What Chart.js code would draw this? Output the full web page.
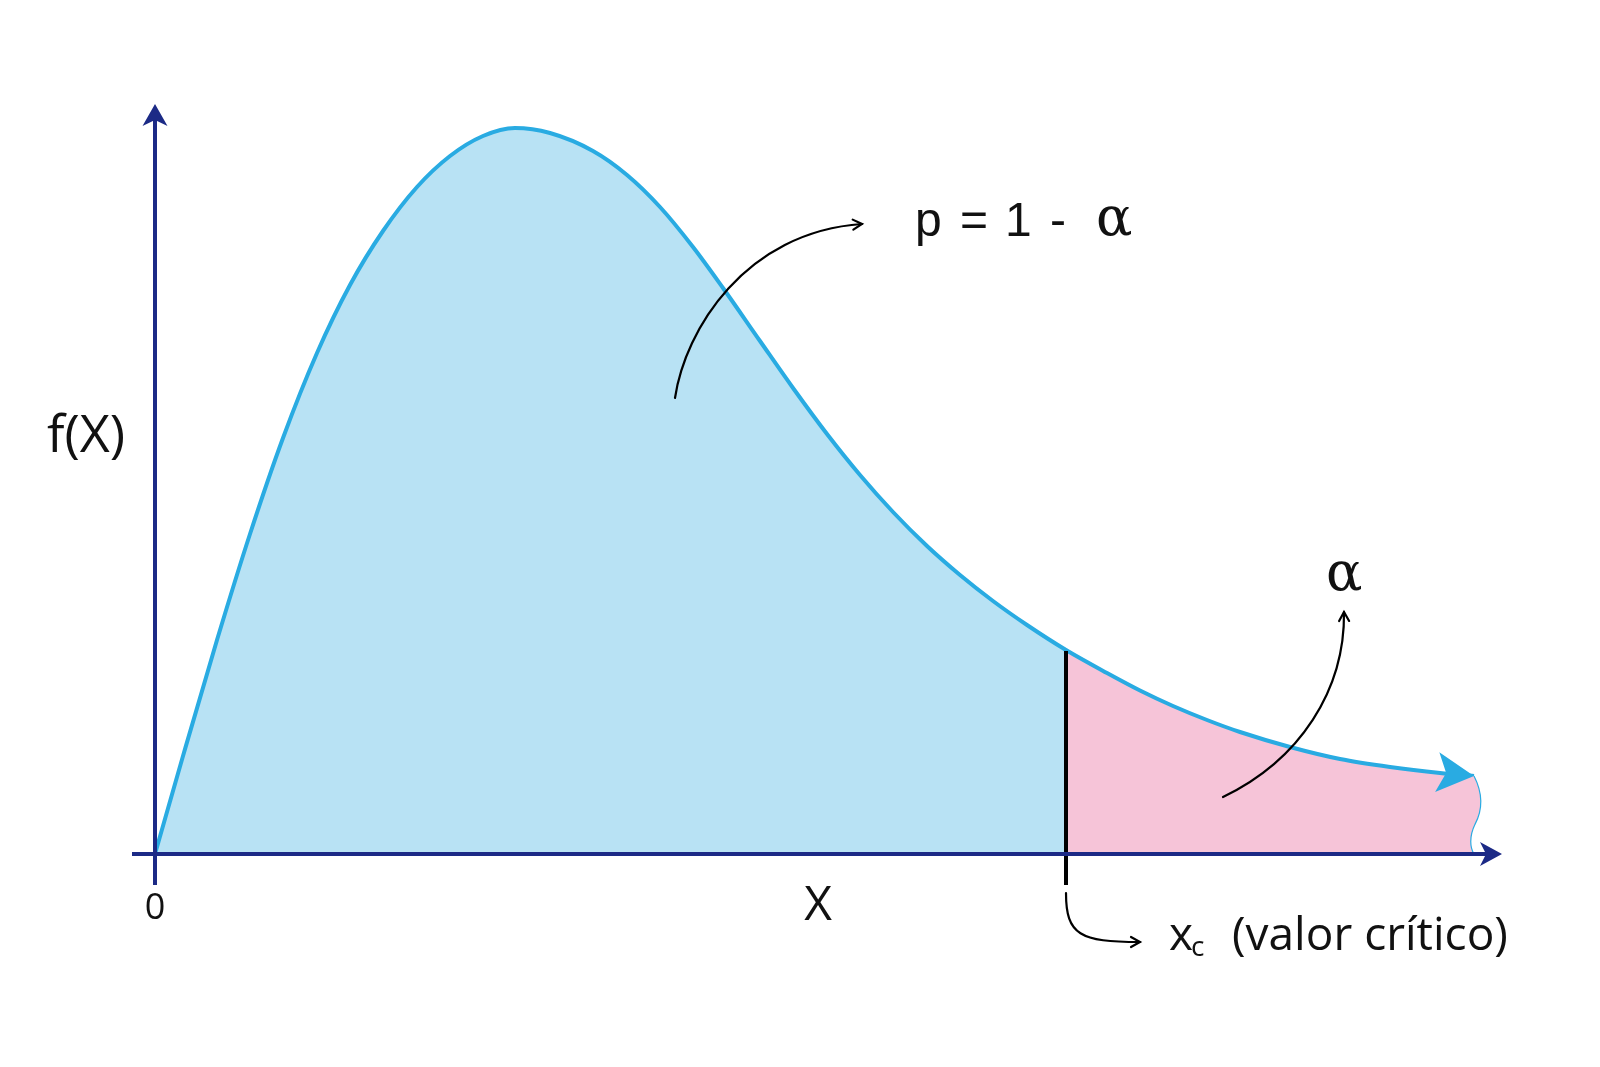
<!DOCTYPE html>
<html lang="pt-BR">
<head>
<meta charset="utf-8">
<title>Valor crítico</title>
<script src="https://cdn.jsdelivr.net/npm/chart.js@4.4.1/dist/chart.umd.min.js"></script>
<style>
  html, body { margin: 0; padding: 0; background: #ffffff; }
  canvas { display: block; }
</style>
</head>
<body>
<canvas id="grafico" width="1600" height="1067"></canvas>
<script>
// Pontos da curva f(X) (unidades arbitrárias)
var valoresX = [0, 0.28, 0.62, 0.95, 1.28, 1.62, 1.95, 2.28, 2.62, 2.95, 3.28, 3.60, 3.95, 4.38, 4.72, 5.05, 5.38, 5.68, 6.05, 6.38, 6.72, 7.05, 7.38, 7.72, 8.05, 8.38, 8.72, 9.11, 9.52, 9.85, 10.18, 10.52, 10.85, 11.35, 11.85, 12.35, 12.85, 13.19];
var valoresY = [0, 0.98, 2.14, 3.20, 4.16, 5.01, 5.69, 6.23, 6.67, 6.98, 7.18, 7.26, 7.21, 7.03, 6.79, 6.47, 6.07, 5.66, 5.13, 4.66, 4.20, 3.79, 3.42, 3.08, 2.79, 2.53, 2.29, 2.04, 1.81, 1.635, 1.48, 1.34, 1.22, 1.07, 0.95, 0.87, 0.81, 0.78];

// Valor crítico e limites dos eixos
var valorCritico = 9.11;
var limiteX = 13.47;
var limiteY = 7.5;

// Textos
var rotuloEixoY = "f(X)";
var rotuloEixoX = "X";
var rotuloOrigem = "0";
var partesP = ["p", "=", "1", "-"];
var rotuloAlfa = "α";
var rotuloXc = "x";
var rotuloSub = "c";
var rotuloCritico = "(valor crítico)";

// Cores
var corEixo = "#1c2a86";
var corCurva = "#29abe2";
var corAzul = "#b8e2f4";
var corRosa = "#f6c4d8";

// Montar os pontos
var pontosCurva = valoresX.map(function (x, i) {
  return { x: x, y: valoresY[i] };
});
var pontosAzul = pontosCurva.filter(function (p) { return p.x <= valorCritico; });
var pontosRosa = pontosCurva.filter(function (p) { return p.x >= valorCritico; });

// Ponta de seta "entalhada" (como nos eixos)
function pontaSeta(ctx, px, py, ang, comp, larg, entalhe, cor) {
  var ux = Math.cos(ang), uy = Math.sin(ang);
  var nx = -uy, ny = ux;
  var bx = px - comp * ux, by = py - comp * uy;
  ctx.beginPath();
  ctx.moveTo(px, py);
  ctx.lineTo(bx + larg * nx, by + larg * ny);
  ctx.lineTo(px - (comp - entalhe) * ux, py - (comp - entalhe) * uy);
  ctx.lineTo(bx - larg * nx, by - larg * ny);
  ctx.closePath();
  ctx.fillStyle = cor;
  ctx.fill();
}

// Seta fina curva (bezier) com ponta aberta
function setaFina(ctx, p0, p1, p2, p3) {
  ctx.save();
  ctx.strokeStyle = "#000000";
  ctx.lineWidth = 2.2;
  ctx.lineCap = "round";
  ctx.beginPath();
  ctx.moveTo(p0[0], p0[1]);
  ctx.bezierCurveTo(p1[0], p1[1], p2[0], p2[1], p3[0], p3[1]);
  ctx.stroke();
  var ang = Math.atan2(p3[1] - p2[1], p3[0] - p2[0]);
  var c = 9, w = 5;
  ctx.beginPath();
  ctx.moveTo(p3[0] - c * Math.cos(ang) - w * Math.sin(ang), p3[1] - c * Math.sin(ang) + w * Math.cos(ang));
  ctx.lineTo(p3[0], p3[1]);
  ctx.lineTo(p3[0] - c * Math.cos(ang) + w * Math.sin(ang), p3[1] - c * Math.sin(ang) - w * Math.cos(ang));
  ctx.stroke();
  ctx.restore();
}

var desenhos = {
  id: "desenhos",
  afterDatasetsDraw: function (chart) {
    var ctx = chart.ctx;
    var sx = chart.scales.x, sy = chart.scales.y;
    var X = function (v) { return sx.getPixelForValue(v); };
    var Y = function (v) { return sy.getPixelForValue(v); };
    var n = valoresX.length;

    ctx.save();

    // Borda "rasgada" no fim da área rosa
    var xe = X(valoresX[n - 1]), ye = Y(valoresY[n - 1]), yb = Y(0);
    var h = yb - ye;
    ctx.fillStyle = "#ffffff";
    ctx.fillRect(xe - 7, ye + 3, 20, h - 4);
    ctx.beginPath();
    ctx.moveTo(xe - 8, ye);
    ctx.lineTo(xe, ye);
    ctx.bezierCurveTo(xe + 10, ye + 0.25 * h, xe + 8, ye + 0.45 * h, xe + 1, ye + 0.62 * h);
    ctx.bezierCurveTo(xe - 5, ye + 0.78 * h, xe - 4, ye + 0.92 * h, xe, yb);
    ctx.lineTo(xe - 8, yb);
    ctx.closePath();
    ctx.fillStyle = corRosa;
    ctx.fill();
    ctx.beginPath();
    ctx.moveTo(xe, ye);
    ctx.bezierCurveTo(xe + 10, ye + 0.25 * h, xe + 8, ye + 0.45 * h, xe + 1, ye + 0.62 * h);
    ctx.bezierCurveTo(xe - 5, ye + 0.78 * h, xe - 4, ye + 0.92 * h, xe, yb);
    ctx.strokeStyle = corCurva;
    ctx.lineWidth = 1.2;
    ctx.stroke();

    // Seta no fim da curva
    var xa = X(valoresX[n - 3]), ya = Y(valoresY[n - 3]);
    pontaSeta(ctx, xe, ye, Math.atan2(ye - ya, xe - xa), 37, 20, 9, corCurva);

    // Linha do valor crítico
    var ic = valoresX.indexOf(valorCritico);
    ctx.strokeStyle = "#000000";
    ctx.lineWidth = 4;
    ctx.beginPath();
    ctx.moveTo(X(valorCritico), Y(valoresY[ic]) + 1);
    ctx.lineTo(X(valorCritico), Y(-0.31));
    ctx.stroke();

    // Eixos
    ctx.strokeStyle = corEixo;
    ctx.lineWidth = 4;
    ctx.beginPath();
    ctx.moveTo(X(-0.23), Y(0));
    ctx.lineTo(X(limiteX) - 12, Y(0));
    ctx.moveTo(X(0), Y(-0.31));
    ctx.lineTo(X(0), Y(limiteY) + 12);
    ctx.stroke();
    pontaSeta(ctx, X(limiteX), Y(0), 0, 22, 12, 6, corEixo);
    pontaSeta(ctx, X(0), Y(limiteY), -Math.PI / 2, 22, 12.5, 6, corEixo);

    // Setas finas
    function P(a, b) { return [X(a), Y(b)]; }
    setaFina(ctx, P(5.20, 4.56), P(5.30, 5.24), P(5.90, 6.22), P(7.07, 6.30));
    setaFina(ctx, P(10.68, 0.57), P(11.45, 0.94), P(11.90, 1.64), P(11.89, 2.42));
    setaFina(ctx, P(9.11, -0.39), P(9.11, -0.81), P(9.25, -0.88), P(9.85, -0.88));

    // Textos
    ctx.fillStyle = "#111111";
    ctx.textBaseline = "alphabetic";
    ctx.textAlign = "left";
    ctx.font = "52px 'Open Sans'";
    ctx.fillText(rotuloEixoY, 47, 452);
    ctx.textAlign = "center";
    ctx.font = "36px 'Open Sans'";
    ctx.fillText(rotuloOrigem, X(0), 919);
    ctx.font = "48px 'Open Sans'";
    ctx.fillText(rotuloEixoX, 818, 920);
    ctx.textAlign = "left";
    ctx.font = "46px 'Open Sans'";
    ctx.fillText(rotuloXc, 1169, 950);
    ctx.fillText(rotuloCritico, 1232, 950);
    ctx.font = "28px 'Open Sans'";
    ctx.fillText(rotuloSub, 1191, 956);

    // "p = 1 -" com o espaçamento largo da figura
    var posP = [915, 960, 1005, 1050];
    ctx.font = "48px 'Liberation Sans'";
    partesP.forEach(function (t, i) {
      ctx.fillText(t, posP[i], 236);
    });
    ctx.font = "54px 'DejaVu Serif'";
    ctx.fillText(rotuloAlfa, 1096, 235);
    ctx.fillText(rotuloAlfa, 1326, 590);

    ctx.restore();
  }
};

var ctx = document.getElementById("grafico").getContext("2d");
var grafico = new Chart(ctx, {
  type: "line",
  data: {
    datasets: [
      {
        label: "curva",
        data: pontosCurva,
        borderColor: corCurva,
        borderWidth: 4,
        fill: false,
        pointRadius: 0,
        cubicInterpolationMode: "monotone",
        clip: false,
        order: 0,
      },
      {
        label: "1 - alfa",
        data: pontosAzul,
        borderWidth: 0,
        borderColor: "rgba(0,0,0,0)",
        backgroundColor: corAzul,
        fill: "origin",
        pointRadius: 0,
        cubicInterpolationMode: "monotone",
        order: 1,
      },
      {
        label: "alfa",
        data: pontosRosa,
        borderWidth: 0,
        borderColor: "rgba(0,0,0,0)",
        backgroundColor: corRosa,
        fill: "origin",
        pointRadius: 0,
        cubicInterpolationMode: "monotone",
        order: 2,
      },
    ],
  },
  options: {
    responsive: false,
    animation: false,
    events: [],
    layout: { padding: { left: 155, right: 98, top: 104, bottom: 213 } },
    plugins: { legend: { display: false }, tooltip: { enabled: false } },
    scales: {
      x: { type: "linear", min: 0, max: limiteX, display: false },
      y: { type: "linear", min: 0, max: limiteY, display: false },
    },
  },
  plugins: [desenhos],
});
</script>
</body>
</html>
